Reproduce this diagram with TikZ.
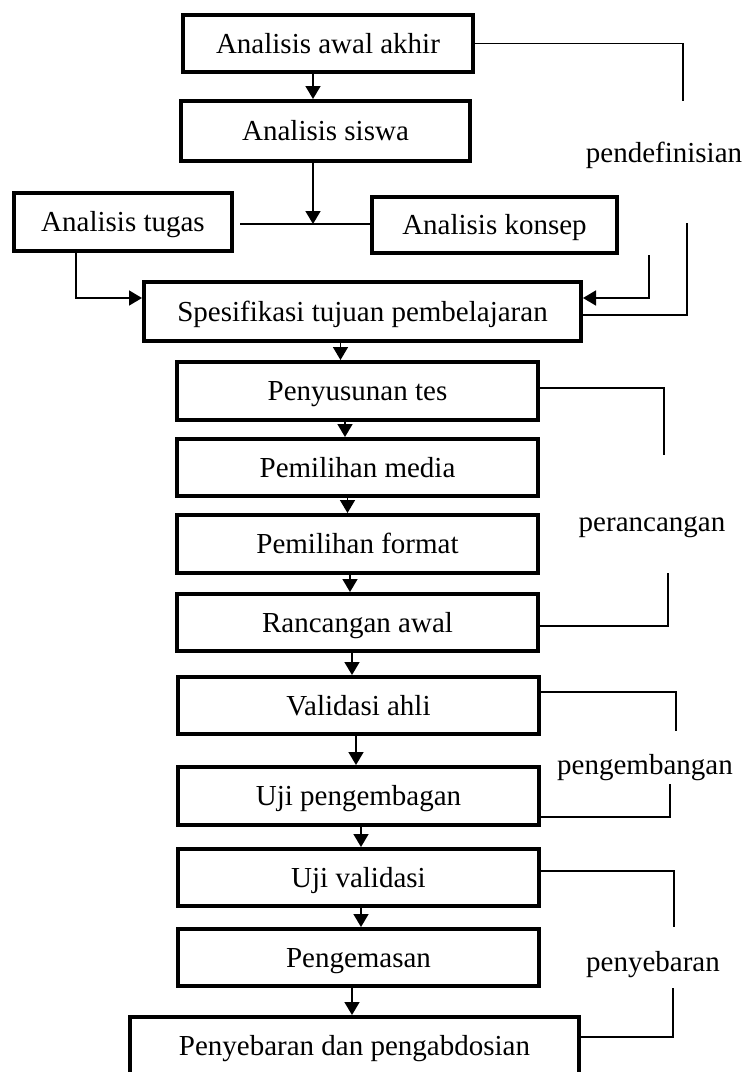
\documentclass[tikz,border=0pt]{standalone}
\usepackage{fontspec}
\setmainfont{Liberation Serif}
\usetikzlibrary{arrows.meta}

\begin{document}
\begin{tikzpicture}[x=1pt,y=-1pt,
    box/.style={draw, line width=4pt, inner sep=0pt, minimum width=361pt, minimum height=57pt, text height=19pt, text depth=0pt, font=\fontsize{29}{35}\selectfont},
    arr/.style={line width=1.6pt, -{Triangle[width=15pt,length=13pt]}},
    ln/.style={line width=1.6pt},
    brk/.style={line width=1.3pt},
    phase/.style={text height=19pt, text depth=0pt, font=\fontsize{29}{35}\selectfont}]
    \useasboundingbox (0,0) rectangle (746,1072);
    % tahap pendefinisian
    \node[box, minimum width=290pt] (awal) at (328,43.5) {Analisis awal akhir};
    \node[box, minimum width=289pt, minimum height=60pt] (siswa) at (325.5,131) {Analisis siswa};
    \node[box, minimum width=218pt, minimum height=58pt] (tugas) at (123,222) {Analisis tugas};
    \node[box, minimum width=245pt, minimum height=56pt] (konsep) at (494.5,225) {Analisis konsep};
    \node[box, minimum width=437pt, minimum height=59pt] (spek) at (362.5,311.5) {Spesifikasi tujuan pembelajaran};
    \coordinate (jn) at (313,224);
    \draw[arr] ([xshift=-15pt]awal.south) -- ([xshift=-15pt]awal.south |- siswa.north);
    \draw[arr] (siswa.south -| jn) -- (jn);
    \draw[ln] (tugas.east |- jn) ++(6,0) -- (konsep.west |- jn);
    \draw[arr] ([xshift=-47pt]tugas.south) |- ([yshift=13.5pt]spek.west);
    \draw[arr] ([xshift=30pt]konsep.south east) |- ([yshift=13.5pt]spek.east);
    % tahap perancangan
    \node[box, minimum height=58pt] (tes) at (357.5,391) {Penyusunan tes};
    \node[box] (media) at (357.5,467.5) {Pemilihan media};
    \node[box, minimum height=58pt] (format) at (357.5,544) {Pemilihan format};
    \node[box] (rancang) at (357.5,622.5) {Rancangan awal};
    % tahap pengembangan
    \node[box] (validasi) at (358.5,705.5) {Validasi ahli};
    \node[box, minimum height=58pt] (ujibang) at (358.5,796) {Uji pengembagan};
    % tahap penyebaran
    \node[box] (ujival) at (358.5,877.5) {Uji validasi};
    \node[box] (kemas) at (358.5,957.5) {Pengemasan};
    \node[box, minimum width=449pt, minimum height=58pt] (sebar) at (354.5,1046) {Penyebaran dan pengabdosian};
    \draw[arr] ([xshift=-17pt]tes.north |- spek.south) -- ([xshift=-17pt]tes.north);
    \draw[arr] ([xshift=-12.5pt]tes.south) -- ([xshift=-12.5pt]media.north);
    \draw[arr] ([xshift=-10pt]media.south) -- ([xshift=-10pt]format.north);
    \draw[arr] ([xshift=-7.5pt]format.south) -- ([xshift=-7.5pt]rancang.north);
    \draw[arr] ([xshift=-6.5pt]validasi.north |- rancang.south) -- ([xshift=-6.5pt]validasi.north);
    \draw[arr] ([xshift=-2.5pt]validasi.south) -- ([xshift=-2.5pt]ujibang.north);
    \draw[arr] ([xshift=2.5pt]ujibang.south) -- ([xshift=2.5pt]ujival.north);
    \draw[arr] ([xshift=2.5pt]ujival.south) -- ([xshift=2.5pt]kemas.north);
    \draw[arr] ([xshift=-6.5pt]kemas.south) -- ([xshift=-6.5pt]kemas.south |- sebar.north);
    % label tahap
    \node[phase] (ldef) at (664,153) {pendefinisian};
    \node[phase] (lran) at (652,522) {perancangan};
    \node[phase] (lbang) at (645,765) {pengembangan};
    \node[phase] (lsebar) at (653,962) {penyebaran};
    \draw[brk] (awal.east) -| ++(208,57);
    \draw[brk] ([yshift=-3.5pt]spek.east) -| ++(104,-92);
    \draw[brk] ([yshift=3pt]tes.east) -| ++(124,67);
    \draw[brk] ([yshift=-3.5pt]rancang.east) -| ++(128,-53);
    \draw[brk] ([yshift=13.5pt]validasi.east) -| ++(135,39);
    \draw[brk] ([yshift=-21pt]ujibang.east) -| ++(129,-33);
    \draw[brk] ([yshift=6.5pt]ujival.east) -| ++(133,56);
    \draw[brk] ([yshift=9pt]sebar.east) -| ++(92,-49);
\end{tikzpicture}
\end{document}
